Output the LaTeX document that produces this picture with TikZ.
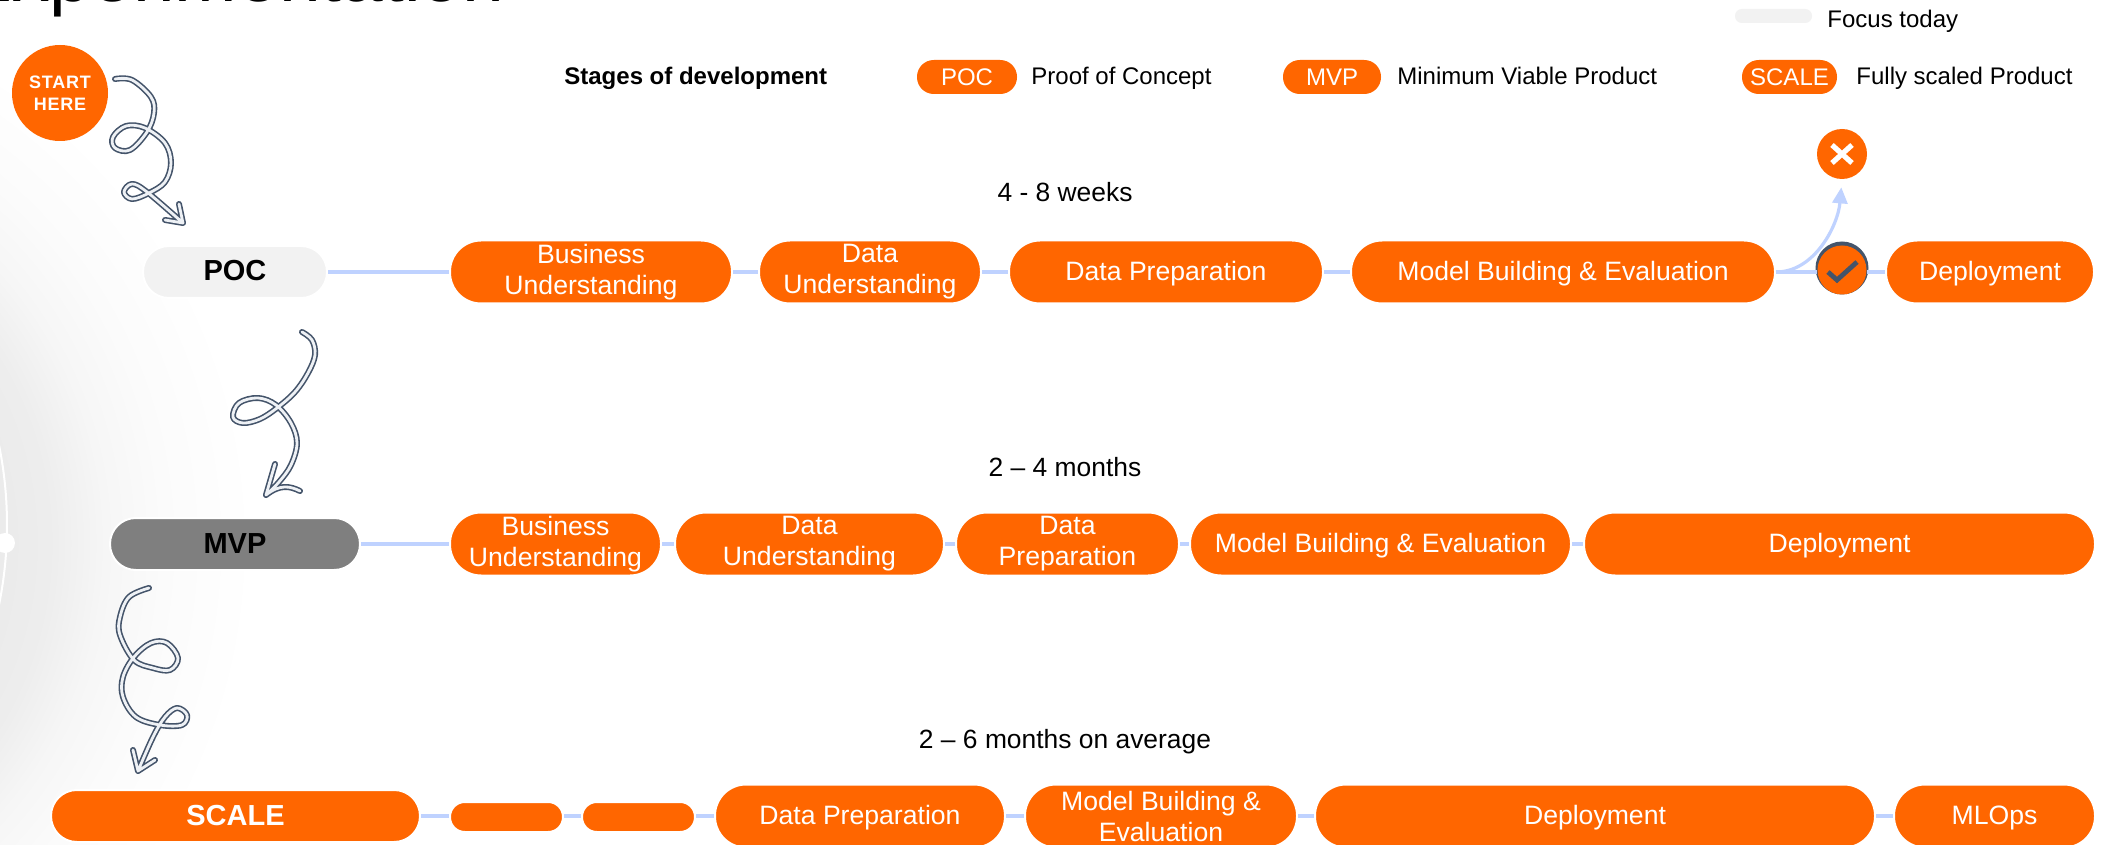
\documentclass[tikz,border=0pt]{standalone}
\usepackage{fontspec}
\setmainfont{Liberation Sans}
\usetikzlibrary{arrows.meta}
\definecolor{orng}{HTML}{FF6600}
\definecolor{linkc}{HTML}{BFD2FF}
\definecolor{slate}{HTML}{44546A}
\definecolor{pale}{HTML}{F2F2F2}
\definecolor{midg}{HTML}{7F7F7F}
\definecolor{swirlc}{HTML}{EEF1F5}
\pgfdeclareradialshading{bgshade}{\pgfpointorigin}{%
  color(0bp)=(black!8); color(13.6bp)=(black!8); color(15.8bp)=(black!7);
  color(18.3bp)=(black!3.5); color(21bp)=(black!1.5); color(25bp)=(white); color(50bp)=(white)}
\tikzset{
  rowpill/.style={shape=rectangle,fill=orng,draw=white,line width=1pt,inner sep=0pt,
    minimum height=31.5pt,rounded corners=15.5pt,text=white,align=center,
    font=\fontsize{13.3}{15.5}\selectfont,
    execute at begin node={\rule{0pt}{11pt}}},
  stubpill/.style={rowpill,minimum height=15pt,rounded corners=7.4pt},
  stagepill/.style={shape=rectangle,draw=white,line width=1pt,inner sep=0pt,
    minimum height=26pt,rounded corners=12.9pt,text=black,align=center,
    font=\fontsize{14.5}{16}\bfseries\selectfont},
  legpill/.style={shape=rectangle,fill=orng,inner sep=0pt,minimum height=17pt,
    rounded corners=8.4pt,text=white,font=\fontsize{12}{14}\selectfont},
  lbl/.style={inner sep=0pt,anchor=base west,text=black,font=\fontsize{12}{14}\selectfont},
  timelbl/.style={inner sep=0pt,anchor=base,text=black,font=\fontsize{13.2}{15}\selectfont},
  link/.style={draw=linkc,line width=1.6pt},
  swirlout/.style={draw=slate,line width=3pt,line cap=round,line join=round},
  swirlin/.style={draw=swirlc,line width=1.4pt,line cap=round,line join=round},
}
\newcommand{\pillnode}[6]{% style, name, x1, x2, cy, text
  \pgfmathsetmacro{\pw}{(#4-#3)/2+1}\pgfmathsetmacro{\pcx}{(#3+#4)/2}
  \node[#1,minimum width=\pw pt] (#2) at (\pcx,#5) {#6};}
\newcommand{\swirl}[1]{\draw[swirlout] #1; \draw[swirlin] #1;}
\begin{document}
\begin{tikzpicture}[x=0.5pt,y=-0.5pt]
\useasboundingbox (0,0) rectangle (2106,845);
\clip (0,0) rectangle (2106,845);
\fill[white] (0,0) rectangle (2106,845);
% background glow
\path[shading=bgshade] (-304,543) circle [radius=560];
\draw[white,line width=1pt] (-393,525) circle [radius=400];
\fill[white] (5,543) circle [radius=10];
% clipped title
\node[inner sep=0pt,anchor=base west,font=\fontsize{37.5}{40}\selectfont] (title) at (-38,1.5) {Experimentation};
% swirls
\swirl{plot[smooth,tension=.6] coordinates {(115,79) (132,80) (151,97) (154,113) (147,132) (130,150) (115,148) (113,137) (126,126) (145,128) (165,143) (171,163) (165,182) (149,193) (132,199) (124,192) (132,184) (147,192) (183,223)} (179,204) -- (183,223) -- (165,220)}
\swirl{plot[smooth,tension=.6] coordinates {(302,332) (312,340) (315,355) (308,373) (295,392) (277,408) (260,419) (243,423) (233,417) (239,403) (258,398) (276,405) (291,423) (297,443) (291,465) (279,482) (266,495)} (275,464) -- (266,495) .. controls (280,484) and (290,486) .. (300,491)}
\swirl{plot[smooth,tension=.6] coordinates {(149,588) (129,597) (120,617) (120,635) (134,660) (153,668) (170,670) (178,658) (167,643) (151,643) (134,657) (123,677) (123,697) (136,717) (160,725) (182,725) (187,715) (177,708) (165,717) (153,737) (138,771)} (133,750) -- (138,771) -- (155,760)}
% start
\node[shape=circle,fill=orng,inner sep=0pt,minimum size=48pt,text=white,align=center,
  font=\fontsize{9}{11}\bfseries\addfontfeature{LetterSpace=4}\selectfont] (start) at (60,93) {START\\HERE};
% legend
\node[lbl,font=\fontsize{12}{14}\bfseries\selectfont] (stages) at (564,85) {Stages of development};
\pillnode{legpill}{lgpoc}{918}{1016}{77}{POC}
\node[lbl] (lgpoct) at (1031,85) {Proof of Concept};
\pillnode{legpill}{lgmvp}{1284}{1380}{77}{MVP}
\node[lbl] (lgmvpt) at (1397,85) {Minimum Viable Product};
\pillnode{legpill}{lgsc}{1743}{1836}{77}{SCALE}
\node[lbl] (lgsct) at (1856,85) {Fully scaled Product};
\node[shape=rectangle,fill=pale,inner sep=0pt,minimum width=38.5pt,minimum height=7pt,rounded corners=3.4pt] (focus) at (1773.5,16) {};
\node[lbl] (focust) at (1827,28) {Focus today};
% times
\node[timelbl] (t1) at (1065,202) {4 - 8 weeks};
\node[timelbl] (t2) at (1065,476) {2 – 4 months};
\node[timelbl] (t3) at (1065,748) {2 – 6 months on average};
% row 1
\pillnode{stagepill,fill=pale}{poc}{144}{326}{272}{\rule[-2pt]{0pt}{2pt}POC}
\pillnode{rowpill}{a1}{451}{731}{272}{Business\\Understanding}
\pillnode{rowpill}{a2}{760}{980}{272}{Data\\Understanding}
\pillnode{rowpill}{a3}{1010}{1322}{272}{Data Preparation}
\pillnode{rowpill}{a4}{1352}{1774}{272}{Model Building \& Evaluation}
\pillnode{rowpill}{a5}{1887}{2093}{272}{Deployment}
\node[shape=circle,fill=slate,inner sep=0pt,minimum size=26.5pt] (chkb) at (1842,268) {};
\node[shape=circle,fill=orng,inner sep=0pt,minimum size=24.5pt] (chk) at (1842,270) {};
\draw[slate,line width=2.4pt] (1828,272) -- (1837,280) -- (1857,262);
\node[shape=circle,fill=orng,inner sep=0pt,minimum size=25pt] (xc) at (1842,154) {};
\draw[white,line width=2.6pt] (1832,145) -- (1852,163) (1852,145) -- (1832,163);
\draw[link] (poc) -- (a1);
\draw[link] (a1) -- (a2);
\draw[link] (a2) -- (a3);
\draw[link] (a3) -- (a4);
\draw[link] (a4.east) -- (a4.east -| chk.west);
\draw[link] (a5.west -| chk.east) -- (a5.west);
\draw[link,-{Triangle[length=8pt,width=7.5pt]},shorten >=4pt] (a4.east) .. controls (1815,272) and (1838,225) .. (xc.south);
% row 2
\pillnode{stagepill,fill=midg}{mvp}{111}{359}{544}{MVP}
\pillnode{rowpill}{b1}{451}{660}{544}{Business\\Understanding}
\pillnode{rowpill}{b2}{676}{943}{544}{Data\\Understanding}
\pillnode{rowpill}{b3}{957}{1178}{544}{Data\\Preparation}
\pillnode{rowpill}{b4}{1191}{1570}{544}{Model Building \& Evaluation}
\pillnode{rowpill}{b5}{1585}{2094}{544}{Deployment}
\draw[link] (mvp) -- (b1);
\draw[link] (b1) -- (b2);
\draw[link] (b2) -- (b3);
\draw[link] (b3) -- (b4);
\draw[link] (b4) -- (b5);
% row 3
\pillnode{stagepill,fill=orng,text=white}{scale}{52}{419}{816}{SCALE}
\pillnode{stubpill}{c1}{451}{562}{817}{}
\pillnode{stubpill}{c2}{583}{694}{817}{}
\pillnode{rowpill}{c3}{716}{1004}{816}{Data Preparation}
\pillnode{rowpill}{c4}{1026}{1296}{816}{Model Building \&\\Evaluation}
\pillnode{rowpill}{c5}{1316}{1874}{816}{Deployment}
\pillnode{rowpill}{c6}{1895}{2094}{816}{MLOps}
\draw[link] (scale.east) -- (c1.west |- scale.east);
\draw[link] (c1.east |- scale.east) -- (c2.west |- scale.east);
\draw[link] (c2.east |- scale.east) -- (c3.west);
\draw[link] (c3) -- (c4);
\draw[link] (c4) -- (c5);
\draw[link] (c5) -- (c6);
\end{tikzpicture}
\end{document}
